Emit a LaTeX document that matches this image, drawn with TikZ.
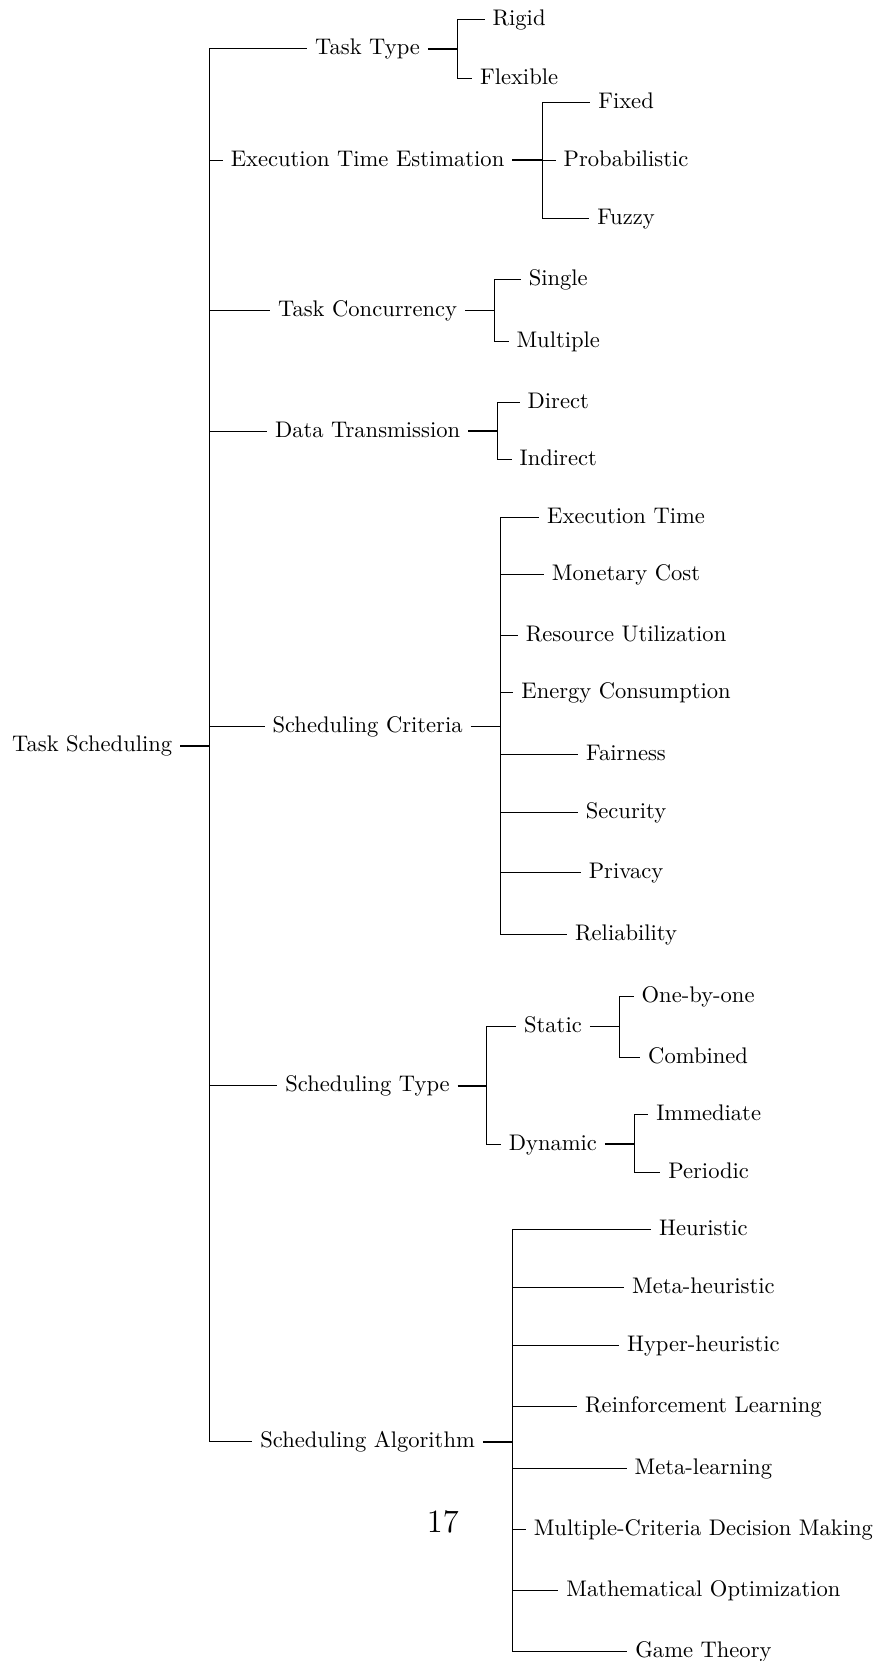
\documentclass[tikz,border=0pt]{standalone}
\usepackage{amsmath}
\usepackage{tikz}

\begin{document}
\begin{tikzpicture}[x=0.0165cm,y=-0.0165cm,
        every node/.style={text height=1.5ex,text depth=.25ex},
        stub/.style={line width=0.7pt}]
        \useasboundingbox (0,0) rectangle (829,1568);

        % Root and first level
        \node (ts) at (87,704) {Task Scheduling};
        \node (tt) at (347,46) {Task Type};
        \node (ete) at (347,151) {Execution Time Estimation};
        \node (tc) at (347,293) {Task Concurrency};
        \node (dt) at (347,407) {Data Transmission};
        \node (sc) at (347,686) {Scheduling Criteria};
        \node (st) at (347,1025) {Scheduling Type};
        \node (sa) at (347,1361) {Scheduling Algorithm};

        % Leaves
        \node (rigid) at (490,18) {Rigid};
        \node (flex) at (490,74) {Flexible};
        \node (fixed) at (591,97) {Fixed};
        \node (prob) at (591,151) {Probabilistic};
        \node (fuzzy) at (591,206) {Fuzzy};
        \node (single) at (527,264) {Single};
        \node (multi) at (527,322) {Multiple};
        \node (direct) at (527,380) {Direct};
        \node (indirect) at (527,434) {Indirect};
        \node (et) at (591,488) {Execution Time};
        \node (mc) at (591,542) {Monetary Cost};
        \node (ru) at (591,600) {Resource Utilization};
        \node (ec) at (591,654) {Energy Consumption};
        \node (fair) at (591,712) {Fairness};
        \node (sec) at (591,767) {Security};
        \node (priv) at (591,824) {Privacy};
        \node (rel) at (591,882) {Reliability};
        \node (static) at (522,969) {Static};
        \node (dynamic) at (522,1080) {Dynamic};
        \node (one) at (659,941) {One-by-one};
        \node (comb) at (659,998) {Combined};
        \node (imm) at (669,1052) {Immediate};
        \node (per) at (669,1107) {Periodic};
        \node (heu) at (664,1161) {Heuristic};
        \node (meta) at (664,1215) {Meta-heuristic};
        \node (hyper) at (664,1270) {Hyper-heuristic};
        \node (rl) at (664,1328) {Reinforcement Learning};
        \node (ml) at (664,1386) {Meta-learning};
        \node (mcdm) at (664,1444) {Multiple-Criteria Decision Making};
        \node (mo) at (664,1501) {Mathematical Optimization};
        \node (gt) at (664,1559) {Game Theory};

        % Page number
        \node (page) at (418,1441) {\Large 17};

        % Forks
        \coordinate (b0) at (198,704);
        \draw[stub] (ts.east) -- (b0);
        \foreach \n in {tt,ete,tc,dt,sc,st,sa}
            \draw (b0) |- (\n.west);

        \coordinate (b1) at (432,46);
        \draw[stub] (tt.east) -- (b1);
        \foreach \n in {rigid,flex}
            \draw (b1) |- (\n.west);

        \coordinate (b2) at (512,151);
        \draw[stub] (ete.east) -- (b2);
        \foreach \n in {fixed,prob,fuzzy}
            \draw (b2) |- (\n.west);

        \coordinate (b3) at (467,293);
        \draw[stub] (tc.east) -- (b3);
        \foreach \n in {single,multi}
            \draw (b3) |- (\n.west);

        \coordinate (b4) at (470,407);
        \draw[stub] (dt.east) -- (b4);
        \foreach \n in {direct,indirect}
            \draw (b4) |- (\n.west);

        \coordinate (b5) at (472,686);
        \draw[stub] (sc.east) -- (b5);
        \foreach \n in {et,mc,ru,ec,fair,sec,priv,rel}
            \draw (b5) |- (\n.west);

        \coordinate (b6) at (459,1025);
        \draw[stub] (st.east) -- (b6);
        \foreach \n in {static,dynamic}
            \draw (b6) |- (\n.west);

        \coordinate (b7) at (585,969);
        \draw[stub] (static.east) -- (b7);
        \foreach \n in {one,comb}
            \draw (b7) |- (\n.west);

        \coordinate (b8) at (599,1080);
        \draw[stub] (dynamic.east) -- (b8);
        \foreach \n in {imm,per}
            \draw (b8) |- (\n.west);

        \coordinate (b9) at (484,1361);
        \draw[stub] (sa.east) -- (b9);
        \foreach \n in {heu,meta,hyper,rl,ml,mcdm,mo,gt}
            \draw (b9) |- (\n.west);
\end{tikzpicture}
\end{document}
